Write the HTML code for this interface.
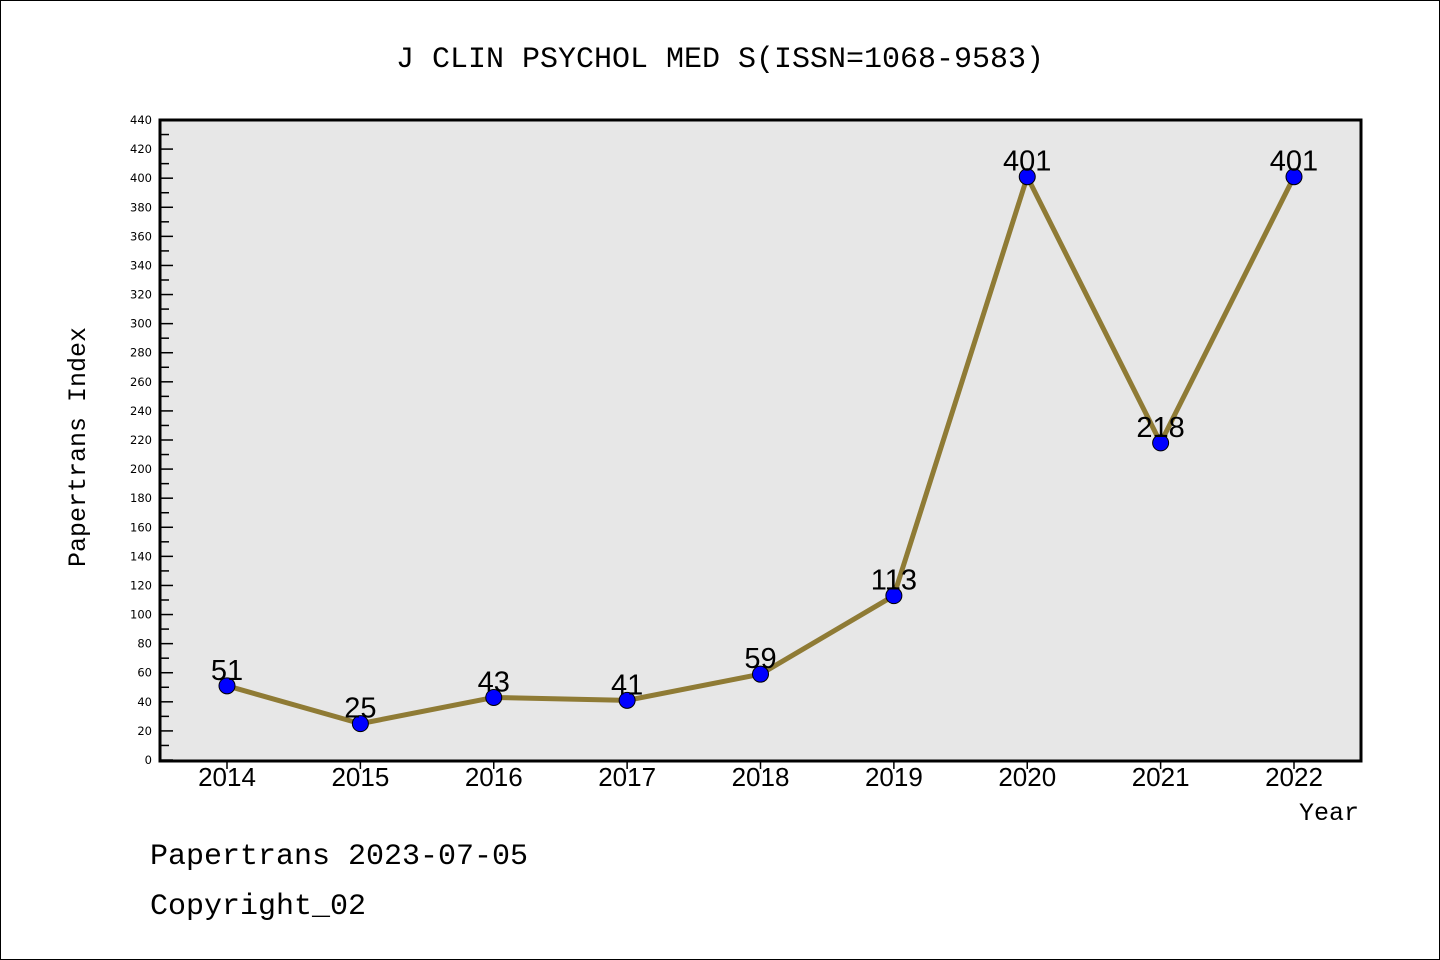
<!DOCTYPE html>
<html><head><meta charset="utf-8"><style>
html,body{margin:0;padding:0;background:#fff}
svg{display:block}
</style></head><body>
<svg width="1440" height="960" xmlns="http://www.w3.org/2000/svg">
<rect x="0.5" y="0.5" width="1439" height="959" fill="#fff" stroke="#000"/>
<text x="720" y="67" text-anchor="middle" font-family="Liberation Mono, monospace" font-size="30">J CLIN PSYCHOL MED S(ISSN=1068-9583)</text>
<rect x="160" y="120" width="1201" height="641" fill="#e7e7e7"/>
<g id="yaxis"></g><g id="xaxis"></g><g id="series"></g>
<rect x="160" y="120" width="1201" height="641" fill="none" stroke="#000" stroke-width="3"/>
<text x="85" y="447" transform="rotate(-90 85 447)" text-anchor="middle" font-family="Liberation Mono, monospace" font-size="25">Papertrans Index</text>
<text x="1359" y="820" text-anchor="end" font-family="Liberation Mono, monospace" font-size="25">Year</text>
<text x="150" y="864" font-family="Liberation Mono, monospace" font-size="30">Papertrans 2023-07-05</text>
<text x="150" y="914" font-family="Liberation Mono, monospace" font-size="30">Copyright_02</text>
</svg>
<script>
const years = [2014,2015,2016,2017,2018,2019,2020,2021,2022];
const values = [51,25,43,41,59,113,401,218,401];
const yTicks = [0,20,40,60,80,100,120,140,160,180,200,220,240,260,280,300,320,340,360,380,400,420,440];
const NS='http://www.w3.org/2000/svg';
function x(i){return 227+i*(1294-227)/(years.length-1);}
function y(v){return 760-v*640/440;}
function mk(t,a,p){const e=document.createElementNS(NS,t);for(const k in a)e.setAttribute(k,a[k]);p.appendChild(e);return e;}
const ya=document.getElementById('yaxis'),xa=document.getElementById('xaxis'),se=document.getElementById('series');
yTicks.forEach(v=>{
  const t=mk('line',{x1:160,x2:173,y1:y(v),y2:y(v),stroke:'#000','stroke-width':1.5},ya);
  
  
  if(v<440){const m=mk('line',{x1:160,x2:169,y1:y(v+10),y2:y(v+10),stroke:'#000','stroke-width':1.5},ya);
  
  }
  const l=mk('text',{x:152,y:y(v)+4,'text-anchor':'end','font-family':'DejaVu Sans, sans-serif','font-size':11.5},ya);
  l.textContent=v;
  
  
});
years.forEach((yr,i)=>{
  const t=mk('line',{x1:x(i),x2:x(i),y1:761,y2:769,stroke:'#000','stroke-width':1.5},xa);
  
  
  const l=mk('text',{x:x(i),y:786,'text-anchor':'middle','font-family':'Liberation Sans, sans-serif','font-size':26},xa);
  l.textContent=yr;
  
  
});
const pl=mk('polyline',{points:values.map((v,i)=>x(i)+','+y(v)).join(' '),fill:'none',stroke:'#8f7b35','stroke-width':5,'stroke-linejoin':'round'},se);


values.forEach((v,i)=>{
  const c=mk('circle',{cx:x(i),cy:y(v),r:8,fill:'#0000ff',stroke:'#000','stroke-width':1},se);
  
  
  const l=mk('text',{x:x(i),y:y(v)-6,'text-anchor':'middle','font-family':'Liberation Sans, sans-serif','font-size':29},se);
  l.textContent=v;
  
  
});
</script>
</body></html>
